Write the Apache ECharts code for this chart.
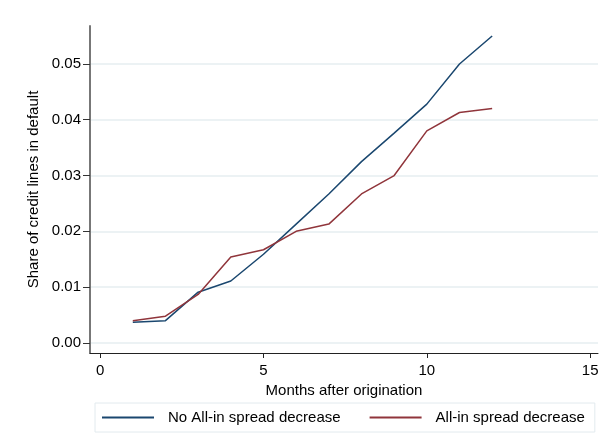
<!DOCTYPE html>
<html>
<head>
<meta charset="utf-8">
<script src="https://cdn.jsdelivr.net/npm/echarts@6/dist/echarts.min.js"></script>
<style>
  html, body { margin: 0; padding: 0; background: #fff; }
  #chart { width: 606px; height: 443px; }
</style>
</head>
<body>
<div id="chart"></div>
<script>
// months after origination
const months = [1, 2, 3, 4, 5, 6, 7, 8, 9, 10, 11, 12]
// share of credit lines in default
const noDecrease = [0.0037, 0.0040, 0.0091, 0.0111, 0.0159, 0.0213, 0.0267, 0.0325, 0.0376, 0.0428, 0.0500, 0.0550]
const withDecrease = [0.0040, 0.0048, 0.0087, 0.0154, 0.0167, 0.0200, 0.0213, 0.0267, 0.0300, 0.0380, 0.0413, 0.0420]
const xTicks = [0, 5, 10, 15]
const yTicks = [0, 0.01, 0.02, 0.03, 0.04, 0.05]
const seriesNames = ['No All-in spread decrease', 'All-in spread decrease']

const font = 'Liberation Sans, Arial, sans-serif'
const chart = echarts.init(document.getElementById('chart'), null, { renderer: 'canvas' })

const pairs = (ys) => months.map((m, i) => [m, ys[i]])

chart.setOption({
  backgroundColor: '#fff',
  animation: false,
  textStyle: { fontFamily: font },
  grid: { left: 90, right: 8, top: 26, bottom: 90, outerBoundsMode: 'none' },
  xAxis: {
    type: 'value',
    min: -0.31,
    max: 15.24,
    name: 'Months after origination',
    nameLocation: 'middle',
    nameGap: 24,
    nameTextStyle: { fontSize: 15, color: '#000', fontFamily: font },
    axisLine: { show: true, onZero: false, lineStyle: { color: '#222', width: 1 } },
    axisTick: { show: true, length: 5, customValues: xTicks, lineStyle: { color: '#222' } },
    axisLabel: { customValues: xTicks, fontSize: 15, color: '#000', margin: 10, fontFamily: font },
    splitLine: { show: false },
  },
  yAxis: {
    type: 'value',
    min: -0.0018,
    max: 0.0568,
    name: 'Share of credit lines in default',
    nameLocation: 'middle',
    nameGap: 42,
    nameTextStyle: { fontSize: 15, color: '#000', fontFamily: font },
    axisLine: { show: true, onZero: false, lineStyle: { color: '#777', width: 2 } },
    axisTick: { show: true, length: 7, customValues: yTicks, lineStyle: { color: '#333' } },
    axisLabel: {
      customValues: yTicks,
      fontSize: 15,
      color: '#000',
      margin: 9,
      fontFamily: font,
      formatter: (v) => v.toFixed(2),
    },
    splitLine: { show: true, lineStyle: { color: '#e6eef1', width: 1.5 } },
  },
  legend: {
    data: seriesNames,
    left: 95,
    top: 403,
    itemWidth: 52,
    itemHeight: 14,
    itemGap: 28,
    padding: [7, 10, 7, 6],
    borderColor: '#e2eaee',
    borderWidth: 1,
    itemStyle: { opacity: 0 },
    textStyle: { fontSize: 15, color: '#000', fontFamily: font, padding: [0, 0, 0, 9] },
  },
  series: [
    {
      name: seriesNames[0],
      type: 'line',
      data: pairs(noDecrease),
      symbol: 'none',
      lineStyle: { color: '#1a476f', width: 1.5 },
      itemStyle: { color: '#1a476f' },
    },
    {
      name: seriesNames[1],
      type: 'line',
      data: pairs(withDecrease),
      symbol: 'none',
      lineStyle: { color: '#90353b', width: 1.5 },
      itemStyle: { color: '#90353b' },
    },
  ],
})
</script>
</body>
</html>
